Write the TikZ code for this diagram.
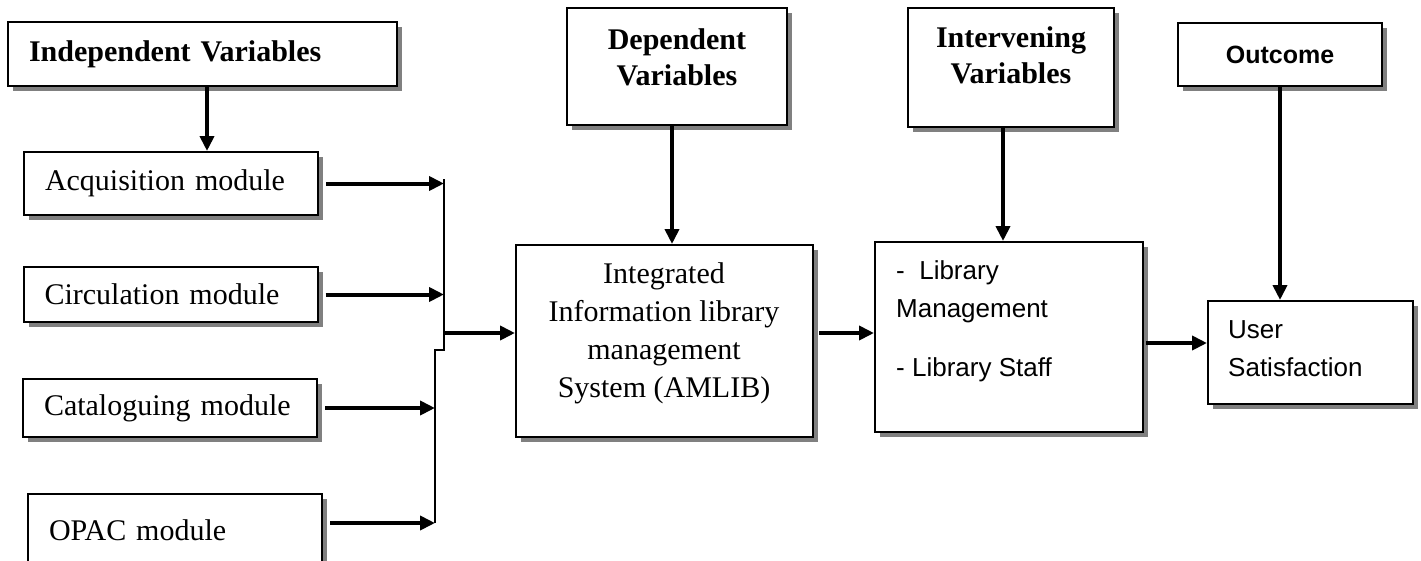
\documentclass[tikz,border=0pt]{standalone}
\usepackage{fontspec}
\setmainfont{Liberation Serif}
\newfontfamily\boxsans{Liberation Sans}
\usetikzlibrary{calc}
\usetikzlibrary{arrows.meta}
\usetikzlibrary{shadows}
\tikzset{
  box/.style={draw, line width=2pt, fill=white, inner sep=0pt,
    drop shadow={shadow xshift=5pt, shadow yshift=-5pt, fill=gray, opacity=1}},
  headbox/.style={font=\bfseries\fontsize{30}{38}\selectfont, align=left, inner xsep=21pt},
  modbox/.style={font=\fontsize{30}{38}\selectfont, align=left, inner xsep=21pt, text width=252pt},
  headtext/.style={font=\bfseries\fontsize{30}{36}\selectfont, align=center, inner sep=0pt},
  bodytext/.style={font=\fontsize{30}{38}\selectfont, align=center, inner sep=0pt},
  sanstext/.style={font=\boxsans\fontsize{26}{38}\selectfont, align=left, inner sep=0pt},
  arr/.style={line width=4pt, -{Triangle[length=15pt,width=14pt]}},
  bus/.style={line width=1.5pt}
}

\begin{document}
\begin{tikzpicture}[x=1pt,y=-1pt]
\useasboundingbox (0,0) rectangle (1421,560);

% left column
\node[box, headbox, text width=347pt, minimum height=64pt] (indep) at (202.5,54) {Independent Variables};
\node[box, modbox, minimum height=63pt] (acq) at (171,183.5) {Acquisition module};
\node[box, modbox, minimum height=55pt] (circ) at (170.5,294.5) {Circulation module};
\node[box, modbox, minimum height=58pt] (catal) at (170,408) {Cataloguing module};
\node[box, modbox, minimum height=72pt] (opac) at (175,530) {OPAC module};

% middle
\node[box, minimum width=220pt, minimum height=117pt] (dep) at (677,66.5) {};
\node[headtext] (depText) at (677,57) {Dependent\\Variables};
\node[box, minimum width=297pt, minimum height=192pt] (integ) at (664.5,341) {};
\node[bodytext] (integText) at (664,333) {Integrated\\Information library\\management\\System (AMLIB)};

% right
\node[box, minimum width=206pt, minimum height=119pt] (interv) at (1011,67.5) {};
\node[headtext] (intervText) at (1011,55) {Intervening\\Variables};
\node[box, minimum width=268pt, minimum height=190pt] (lib) at (1009,337) {};
\node[sanstext, anchor=north west] (libText) at (896,260) {-\ \ Library\\Management\\[21pt]- Library Staff};
\node[box, font=\boxsans\bfseries\fontsize{25}{30}\selectfont, minimum width=204pt, minimum height=63pt] (outc) at (1280,54.5) {Outcome};
\node[box, minimum width=205pt, minimum height=103pt] (user) at (1310.5,352.5) {};
\node[sanstext, anchor=north west] (userText) at (1228,320) {User\\Satisfaction};

\coordinate (busTop) at (444,179);
\coordinate (busStep) at (444,350);
\coordinate (busJog) at (435,350);
\coordinate (busEnd) at (435,523);
\coordinate (busOut) at (444,333);
\coordinate (libOut) at (1146,343);

\draw[bus] (busTop) -- (busStep) -- (busJog) -- (busEnd);
\draw[arr] ([xshift=4.5pt]indep.south) -- ([xshift=4.5pt]indep.south |- acq.north);
\draw[arr] ([xshift=7pt]acq.east) -- (acq.east -| busTop);
\draw[arr] ([xshift=7pt]circ.east) -- (circ.east -| busTop);
\draw[arr] ([xshift=7pt]catal.east) -- (catal.east -| busEnd);
\draw[arr] ([xshift=7pt,yshift=7pt]opac.east) -- ([yshift=7pt]opac.east -| busEnd);

\draw[arr] (busOut) -- (busOut -| integ.west);
\draw[arr] ([xshift=-5pt]dep.south) -- ([xshift=-5pt]dep.south |- integ.north);
\draw[arr] ([xshift=-8pt]interv.south) -- ([xshift=-8pt]interv.south |- lib.north);
\draw[arr] ($(busOut -| integ.east)+(5,0)$) -- (busOut -| lib.west);
\draw[arr] (libOut) -- (libOut -| user.west);
\draw[arr] (outc.south) -- (outc.south |- user.north);

\end{tikzpicture}
\end{document}
